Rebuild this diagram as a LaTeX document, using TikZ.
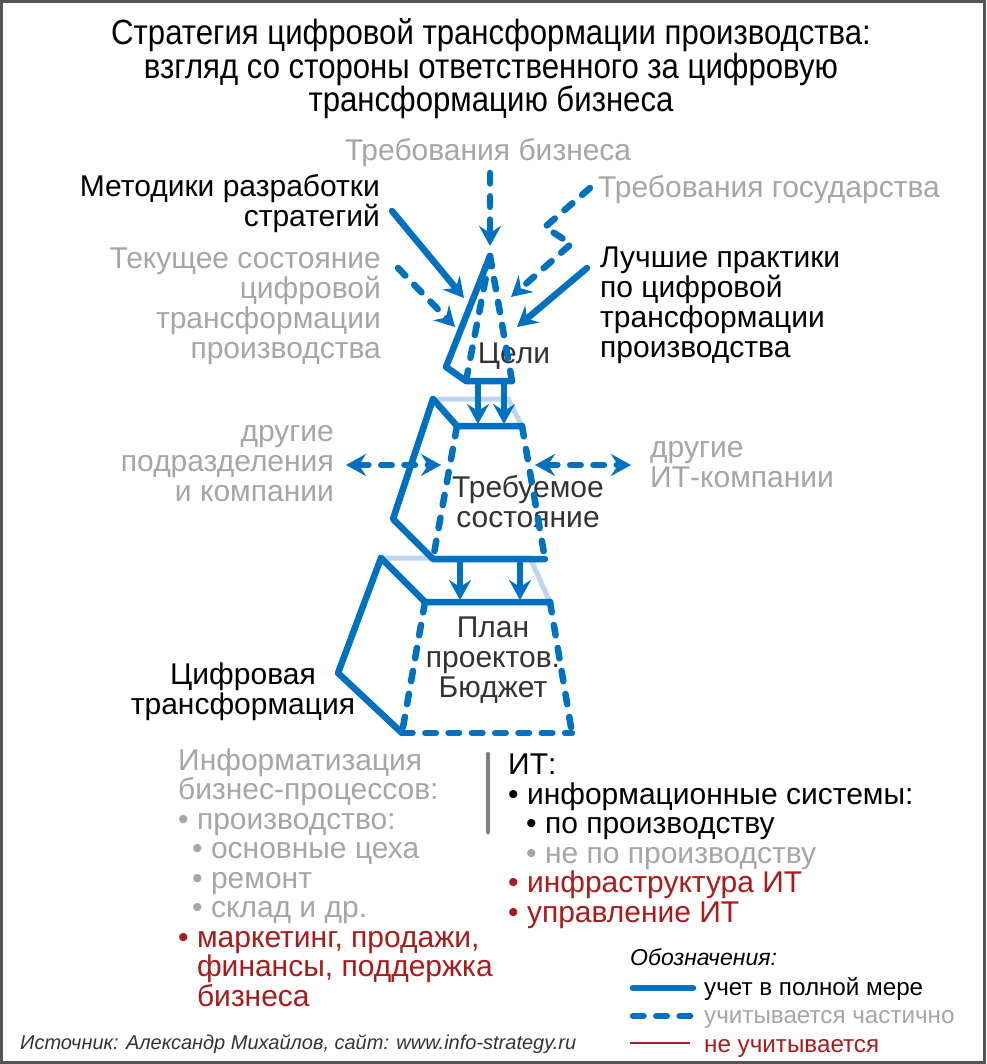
\documentclass[tikz,border=0pt]{standalone}
\usepackage{fontspec}
\setmainfont{Liberation Sans}
\newfontfamily\narrowfont[FakeStretch=0.89]{Liberation Sans}
\usetikzlibrary{arrows.meta}
\definecolor{tblue}{RGB}{0,112,192}
\definecolor{lblue}{RGB}{190,215,238}
\definecolor{tgray}{RGB}{166,166,166}
\definecolor{tred}{RGB}{168,28,28}
\definecolor{tdark}{RGB}{51,51,51}
\definecolor{frame}{RGB}{85,85,85}
\definecolor{bar}{RGB}{128,128,128}
\tikzset{
  full/.style={tblue, line width=6.5pt, line cap=round, line join=round},
  part/.style={tblue, line width=6.5pt, line cap=round, dash pattern=on 10.5pt off 12.8pt},
  back/.style={lblue, line width=5pt},
  tip/.style={-{Stealth[length=20pt,width=22pt,inset=7pt]}},
  tips/.style={{Stealth[length=20pt,width=22pt,inset=7pt]}-{Stealth[length=20pt,width=22pt,inset=7pt]}},
  lbl/.style={font=\fontsize{30}{30}\selectfont, inner sep=0pt},
  lst/.style={font=\fontsize{30}{29.5}\selectfont, inner sep=0pt},
  leg/.style={font=\fontsize{24.2}{24.2}\selectfont, inner sep=0pt, anchor=base west},
}
\begin{document}
\begin{tikzpicture}[x=1pt,y=-1pt]
\useasboundingbox (0,0) rectangle (986,1064);
\fill[white] (0,0) rectangle (986,1064);
\draw[frame, line width=3pt] (1.5,1.5) rectangle (984.5,1062.5);

% title (anchor base = baseline of last line)
\node[inner sep=0pt, align=center, anchor=base, font=\narrowfont\fontsize{35}{32.5}\selectfont] (title) at (491,112)
  {Стратегия цифровой трансформации производства:\\взгляд со стороны ответственного за цифровую\\трансформацию бизнеса};

% labels
\node[lbl, tgray, anchor=base] (reqbiz) at (488,161) {Требования бизнеса};
\node[lbl, align=right, anchor=base east] (method) at (380,227) {Методики разработки\\стратегий};
\node[lbl, tgray, anchor=base west] (reqgov) at (598,198) {Требования государства};
\node[lbl, tgray, align=right, anchor=base east] (current) at (381,358) {Текущее состояние\\цифровой\\трансформации\\производства};
\node[lbl, align=left, anchor=base west] (best) at (600,357) {Лучшие практики\\по цифровой\\трансформации\\производства};
\node[lbl, tdark, anchor=base] (goals) at (514,363) {Цели};
\node[lbl, tgray, align=right, anchor=base east] (otherdep) at (334,501) {другие\\подразделения\\и компании};
\node[lbl, tgray, align=left, anchor=base west] (otherit) at (650,487) {другие\\ИТ-компании};
\node[lbl, tdark, align=center, anchor=base] (target) at (528,527) {Требуемое\\состояние};
\node[lbl, tdark, align=center, anchor=base] (plan) at (493,697) {План\\проектов.\\Бюджет};
\node[lbl, align=center, anchor=base] (digital) at (243,714) {Цифровая\\трансформация};

% goals triangle
\coordinate (gA) at (490,256);
\coordinate (gO) at (446,367);
\coordinate (gL) at (466,381);
\coordinate (gR) at (512,381);
% target trapezoid
\coordinate (tB) at (433,399);
\coordinate (tBR) at (508,399);
\coordinate (tL) at (457,426);
\coordinate (tR) at (522,426);
\coordinate (tO) at (393,519);
\coordinate (tBL) at (433,559);
\coordinate (tBRt) at (545,559);
% plan trapezoid
\coordinate (pB) at (381,558);
\coordinate (pBR) at (530,558);
\coordinate (pL) at (425,602);
\coordinate (pR) at (550,602);
\coordinate (pO) at (338,673);
\coordinate (pBL) at (402,733);
\coordinate (pBRt) at (572,733);

\draw[back] (pB) -- (pBR) -- (pR);
\draw[back] (tB) -- (tBR) -- (tR);

\draw[full] (gA) -- (gO) -- (gL) -- (gR);
\draw[part] (gA) -- (gL);
\draw[part] (gA) -- (gR);

\draw[full] (tB) -- (tL) -- (tR);
\draw[full] (tB) -- (tO) -- (tBL) -- (tBRt);
\draw[part] (tL) -- (tBL);
\draw[part] (tR) -- (tBRt);

\draw[full] (pB) -- (pL) -- (pR);
\draw[full] (pB) -- (pO) -- (pBL);
\draw[part] (pBL) -- (pBRt);
\draw[part] (pL) -- (pBL);
\draw[part] (pR) -- (pBRt);

% arrows between levels
\coordinate (ga1) at (478,382); \coordinate (ta1) at (478,424);
\coordinate (ga2) at (504,382); \coordinate (ta2) at (504,424);
\draw[full, tip] (ga1) -- (ta1);
\draw[full, tip] (ga2) -- (ta2);
\coordinate (tb1) at (460,560); \coordinate (pa1) at (460,600);
\coordinate (tb2) at (520,560); \coordinate (pa2) at (520,600);
\draw[full, tip] (tb1) -- (pa1);
\draw[full, tip] (tb2) -- (pa2);

% inputs to goals
\coordinate (rb1) at (490,173); \coordinate (rb2) at (490,246);
\draw[part, tip] (rb1) -- (rb2);
\coordinate (me1) at (392,211); \coordinate (me2) at (464,298);
\draw[full, tip] (me1) -- (me2);
\coordinate (cu1) at (398,268); \coordinate (cu2) at (455,327);
\draw[part, tip] (cu1) -- (cu2);
\coordinate (go1) at (590,188); \coordinate (go2) at (545,227); \coordinate (go3) at (571,244); \coordinate (go4) at (511,297);
\draw[part, tip] (go1) -- (go2) -- (go3) -- (go4);
\coordinate (be1) at (587,268); \coordinate (be2) at (517,327);
\draw[full, tip] (be1) -- (be2);

% exchange arrows
\coordinate (ex1) at (346,465); \coordinate (ex2) at (441,465);
\draw[part, tips] (ex1) -- (ex2);
\coordinate (ex3) at (535,465); \coordinate (ex4) at (631,465);
\draw[part, tips] (ex3) -- (ex4);

% lists (anchor base = baseline of last line)
\node[lst, tgray, align=left, anchor=base west] (inform) at (178,1006)
  {Информатизация\\бизнес-процессов:\\• производство:\\\hspace*{14pt}• основные цеха\\\hspace*{14pt}• ремонт\\\hspace*{14pt}• склад и др.\\\textcolor{tred}{• маркетинг, продажи,}\\\textcolor{tred}{\phantom{• }финансы, поддержка}\\\textcolor{tred}{\phantom{• }бизнеса}};
\coordinate (bar1) at (488,754); \coordinate (bar2) at (488,832);
\draw[bar, line width=4.5pt, line cap=round] (bar1) -- (bar2);
\node[lst, align=left, anchor=base west] (itlist) at (508,922)
  {ИТ:\\• информационные системы:\\\hspace*{18pt}• по производству\\\textcolor{tgray}{\hspace*{18pt}• не по производству}\\\textcolor{tred}{• инфраструктура ИТ}\\\textcolor{tred}{• управление ИТ}};

% legend
\node[inner sep=0pt, anchor=base west, font=\itshape\fontsize{23}{23}\selectfont] (legtitle) at (630,965) {Обозначения:};
\coordinate (l1a) at (633,988); \coordinate (l1b) at (693,988);
\draw[full] (l1a) -- (l1b);
\node[leg] (leg1) at (704,995) {учет в полной мере};
\coordinate (l2a) at (633,1016); \coordinate (l2b) at (693,1016);
\draw[part] (l2a) -- (l2b);
\node[leg, tgray] (leg2) at (704,1023) {учитывается частично};
\coordinate (l3a) at (630,1043); \coordinate (l3b) at (690,1043);
\draw[tred, line width=2pt] (l3a) -- (l3b);
\node[leg, tred] (leg3) at (704,1052) {не учитывается};

% source
\node[inner sep=0pt, anchor=base west, tdark, font=\itshape\fontsize{20}{20}\selectfont] (source) at (20,1049)
  {Источник: Александр Михайлов, сайт: www.info-strategy.ru};
\end{tikzpicture}
\end{document}
